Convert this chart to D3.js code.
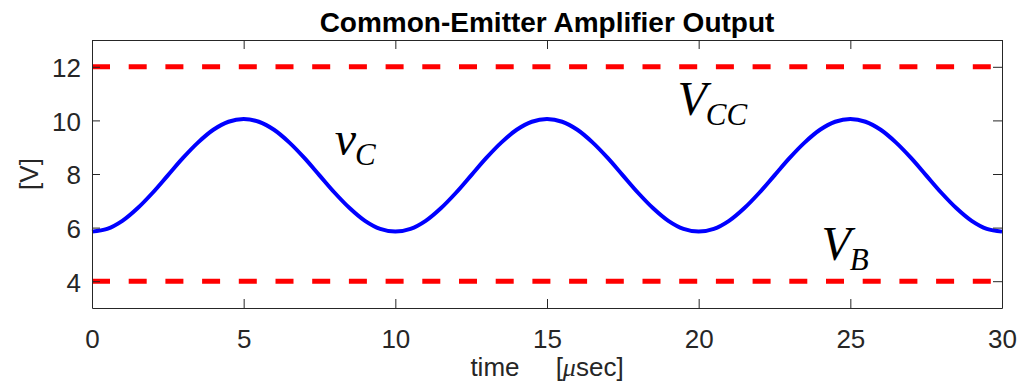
<!DOCTYPE html>
<html>
<head>
<meta charset="utf-8">
<script src="https://cdn.jsdelivr.net/npm/d3@7"></script>
<style>
  body { margin: 0; background: #fff; }
  svg { display: block; font-family: "Liberation Sans", Arial, sans-serif; }
  .axis path, .axis line { stroke: #262626; }
  .axis text { fill: #262626; }
</style>
</head>
<body>
<div id="chart"></div>
<script>
// Common-Emitter Amplifier Output: collector voltage vs time, with supply / base rails

// time samples [usec]
const timeUs = [
  0, 0.5, 1, 1.5, 2, 2.5, 3, 3.5, 4, 4.5, 5, 5.5, 6, 6.5, 7, 7.5, 8, 8.5, 9, 9.5,
  10, 10.5, 11, 11.5, 12, 12.5, 13, 13.5, 14, 14.5, 15, 15.5, 16, 16.5, 17, 17.5, 18, 18.5, 19, 19.5,
  20, 20.5, 21, 21.5, 22, 22.5, 23, 23.5, 24, 24.5, 25, 25.5, 26, 26.5, 27, 27.5, 28, 28.5, 29, 29.5,
  30
];
// v_C [V]
const vC = [
  5.85, 5.95, 6.25, 6.72, 7.30, 7.95, 8.60, 9.18, 9.65, 9.95, 10.05, 9.95, 9.65, 9.18, 8.60, 7.95, 7.30, 6.72, 6.25, 5.95,
  5.85, 5.95, 6.25, 6.72, 7.30, 7.95, 8.60, 9.18, 9.65, 9.95, 10.05, 9.95, 9.65, 9.18, 8.60, 7.95, 7.30, 6.72, 6.25, 5.95,
  5.85, 5.95, 6.25, 6.72, 7.30, 7.95, 8.60, 9.18, 9.65, 9.95, 10.05, 9.95, 9.65, 9.18, 8.60, 7.95, 7.30, 6.72, 6.25, 5.95,
  5.85
];
// rails
const VCC = 12;
const VB = 4;

const xTicks = [0, 5, 10, 15, 20, 25, 30];
const yTicks = [4, 6, 8, 10, 12];

// annotation labels: [main, subscript, t, v]
const labels = [
  { main: "v", sub: "C", t: 8.0, v: 8.7 },
  { main: "V", sub: "CC", t: 19.3, v: 10.2 },
  { main: "V", sub: "B", t: 24.05, v: 4.78 }
];

const WIDTH = 1021, HEIGHT = 392;
const M = { left: 92, right: 19, top: 40, bottom: 84 };
const W = WIDTH - M.left - M.right;
const H = HEIGHT - M.top - M.bottom;

const svg = d3.select("#chart").append("svg")
  .attr("width", WIDTH).attr("height", HEIGHT);

const x = d3.scaleLinear().domain([0, 30]).range([0, W]);
const y = d3.scaleLinear().domain([3, 13]).range([H, 0]);

const g = svg.append("g").attr("transform", `translate(${M.left},${M.top})`);

// rails (dashed red)
g.selectAll("line.rail").data([VCC, VB]).join("line")
  .attr("class", "rail")
  .attr("x1", x(0)).attr("x2", x(30))
  .attr("y1", d => y(d)).attr("y2", d => y(d))
  .attr("stroke", "#ff0000")
  .attr("stroke-width", 5)
  .attr("stroke-dasharray", "18,18.7");

// v_C curve
const pts = timeUs.map((t, i) => ({ t, v: vC[i] }));
const line = d3.line().curve(d3.curveCatmullRom).x(d => x(d.t)).y(d => y(d.v));
g.append("path").datum(pts)
  .attr("d", line)
  .attr("fill", "none")
  .attr("stroke", "#0000ff")
  .attr("stroke-width", 4);

// axes (ticks inward, box on)
const fontTick = "26px";
const gxB = g.append("g").attr("class", "axis").attr("transform", `translate(0,${H})`)
  .call(d3.axisBottom(x).tickValues(xTicks).tickSizeInner(-9).tickSizeOuter(0).tickPadding(20));
const gxT = g.append("g").attr("class", "axis")
  .call(d3.axisTop(x).tickValues(xTicks).tickSizeInner(-9).tickSizeOuter(0).tickFormat(""));
const gyL = g.append("g").attr("class", "axis")
  .call(d3.axisLeft(y).tickValues(yTicks).tickSizeInner(-8).tickSizeOuter(0).tickPadding(20));
const gyR = g.append("g").attr("class", "axis").attr("transform", `translate(${W},0)`)
  .call(d3.axisRight(y).tickValues(yTicks).tickSizeInner(-9).tickSizeOuter(0).tickFormat(""));

[gxB, gxT, gyL, gyR].forEach(a => {
  a.select(".domain").attr("stroke", "#262626").attr("stroke-width", 1);
  a.selectAll(".tick text").style("font-size", fontTick).style("font-family", "Liberation Sans, Arial, sans-serif");
});
gxB.selectAll(".tick text").attr("dy", "0.71em").attr("y", 22);
gyL.selectAll(".tick text").attr("x", -11).attr("dy", "0.38em");

// title
svg.append("text")
  .attr("x", M.left + W / 2).attr("y", 32)
  .attr("text-anchor", "middle")
  .style("font-size", "28px").style("font-weight", "bold").attr("fill", "#000")
  .text("Common-Emitter Amplifier Output");

// axis labels
const xl = svg.append("text")
  .attr("x", M.left + W / 2).attr("y", 376)
  .attr("text-anchor", "middle")
  .style("font-size", "26px").style("white-space", "pre").attr("fill", "#262626");
xl.append("tspan").text("time     [");
xl.append("tspan").style("font-style", "italic").style("font-family", "Liberation Serif, serif").text("\u03bc");
xl.append("tspan").text("sec]");

svg.append("text")
  .attr("transform", `translate(38,${M.top + H / 2}) rotate(-90)`)
  .attr("text-anchor", "middle")
  .style("font-size", "26px").attr("fill", "#262626")
  .text("[V]");

// math annotations
const ann = g.selectAll("text.ann").data(labels).join("text")
  .attr("class", "ann")
  .attr("x", d => x(d.t)).attr("y", d => y(d.v))
  .style("font-family", "Liberation Serif, 'DejaVu Serif', serif")
  .style("font-style", "italic")
  .attr("fill", "#000");
ann.append("tspan").style("font-size", "48px").text(d => d.main);
ann.append("tspan").style("font-size", "31px").attr("dx", -1).attr("dy", 10).text(d => d.sub);
</script>
</body>
</html>
